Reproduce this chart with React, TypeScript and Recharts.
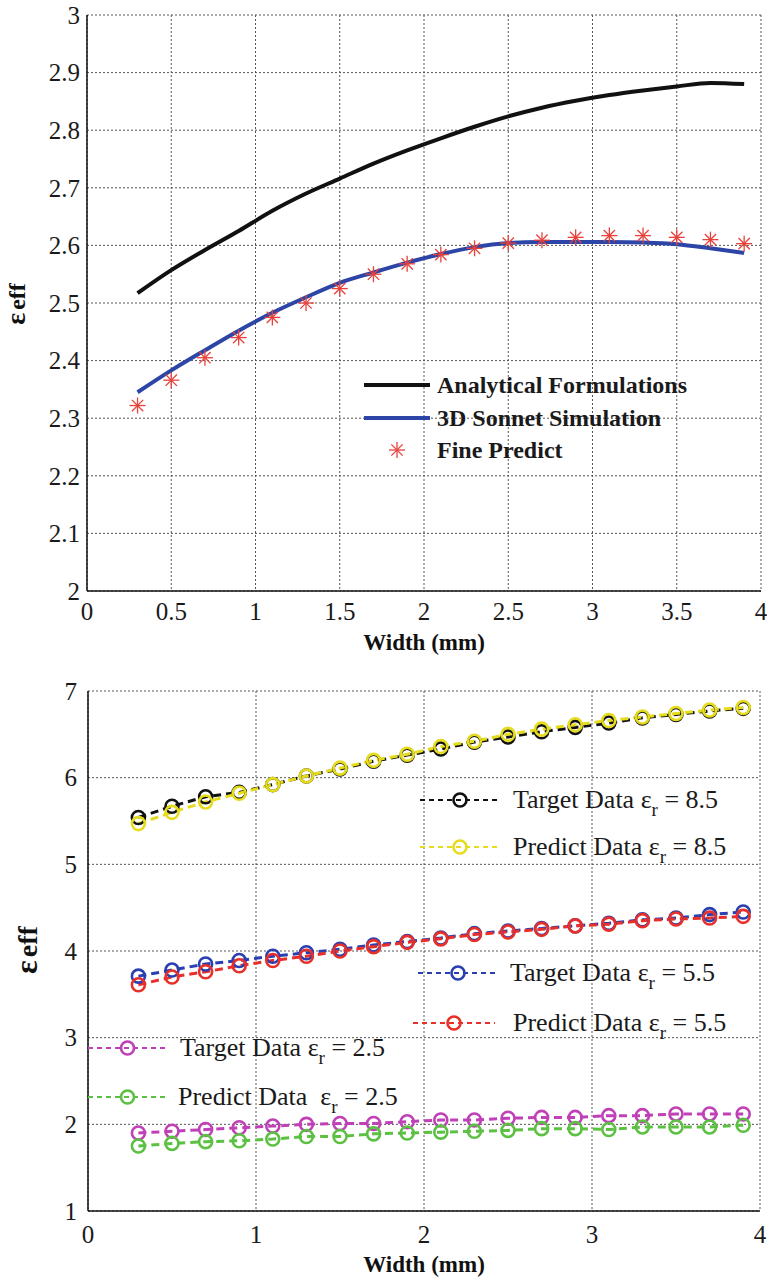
import { CartesianGrid, Line, LineChart, XAxis, YAxis } from 'recharts';

const FONT = '"Liberation Serif", "Times New Roman", serif';

// widths (mm) sampled in both plots
const widths = [0.3, 0.5, 0.7, 0.9, 1.1, 1.3, 1.5, 1.7, 1.9, 2.1, 2.3, 2.5, 2.7, 2.9, 3.1, 3.3, 3.5, 3.7, 3.9];

// top plot
const analytical = [2.517, 2.557, 2.592, 2.625, 2.66, 2.69, 2.716, 2.742, 2.765, 2.786, 2.806, 2.824, 2.839, 2.851, 2.861, 2.869, 2.876, 2.882, 2.88];
const sonnet = [2.345, 2.383, 2.418, 2.452, 2.483, 2.51, 2.535, 2.553, 2.57, 2.585, 2.597, 2.604, 2.606, 2.606, 2.606, 2.605, 2.602, 2.595, 2.587];
const finePredict = [2.322, 2.366, 2.405, 2.44, 2.475, 2.5, 2.525, 2.55, 2.568, 2.584, 2.595, 2.604, 2.609, 2.614, 2.617, 2.617, 2.614, 2.61, 2.603];
const topXTicks = [0, 0.5, 1, 1.5, 2, 2.5, 3, 3.5, 4];
const topYTicks = [2, 2.1, 2.2, 2.3, 2.4, 2.5, 2.6, 2.7, 2.8, 2.9, 3];

// bottom plot
const target85 = [5.54, 5.67, 5.78, 5.83, 5.92, 6.02, 6.1, 6.19, 6.26, 6.33, 6.41, 6.47, 6.53, 6.58, 6.63, 6.69, 6.73, 6.77, 6.8];
const predict85 = [5.47, 5.6, 5.72, 5.82, 5.92, 6.02, 6.11, 6.2, 6.27, 6.36, 6.42, 6.5, 6.56, 6.61, 6.66, 6.7, 6.74, 6.78, 6.81];
const target55 = [3.71, 3.78, 3.85, 3.89, 3.94, 3.98, 4.02, 4.07, 4.11, 4.15, 4.2, 4.23, 4.26, 4.29, 4.32, 4.36, 4.38, 4.42, 4.45];
const predict55 = [3.61, 3.7, 3.76, 3.83, 3.89, 3.94, 4.0, 4.05, 4.1, 4.14, 4.19, 4.22, 4.25, 4.29, 4.31, 4.35, 4.37, 4.38, 4.4];
const target25 = [1.9, 1.92, 1.94, 1.96, 1.98, 2.0, 2.01, 2.01, 2.03, 2.05, 2.05, 2.07, 2.08, 2.08, 2.1, 2.1, 2.12, 2.12, 2.12];
const predict25 = [1.75, 1.78, 1.8, 1.81, 1.83, 1.86, 1.86, 1.89, 1.9, 1.91, 1.92, 1.93, 1.95, 1.95, 1.94, 1.97, 1.97, 1.97, 1.99];
const bottomXTicks = [0, 1, 2, 3, 4];
const bottomYTicks = [1, 2, 3, 4, 5, 6, 7];

const topRows = widths.map((w, i) => ({ w, analytical: analytical[i], sonnet: sonnet[i], fine: finePredict[i] }));
const bottomRows = widths.map((w, i) => ({
  w,
  t85: target85[i],
  p85: predict85[i],
  t55: target55[i],
  p55: predict55[i],
  t25: target25[i],
  p25: predict25[i],
}));

const bottomSeries = [
  { key: 't85', color: '#111111', label: 'Target Data ε', val: ' = 8.5', cy: 800, x1: 420, x2: 500, tx: 513 },
  { key: 'p85', color: '#e6dc1e', label: 'Predict Data ε', val: ' = 8.5', cy: 847, x1: 420, x2: 500, tx: 513 },
  { key: 't55', color: '#2a3fb0', label: 'Target Data ε', val: ' = 5.5', cy: 973, x1: 418, x2: 498, tx: 510 },
  { key: 'p55', color: '#e8302a', label: 'Predict Data ε', val: ' = 5.5', cy: 1023, x1: 413, x2: 495, tx: 513 },
  { key: 't25', color: '#c040b8', label: 'Target Data ε', val: ' = 2.5', cy: 1048, x1: 88, x2: 167, tx: 180 },
  { key: 'p25', color: '#5cc043', label: 'Predict Data  ε', val: ' = 2.5', cy: 1097, x1: 88, x2: 167, tx: 178 },
];

const gridColor = '#555';

function XTick(props: any) {
  const { x, y, payload } = props;
  return (
    <text x={x} y={y} dy="0.71em" textAnchor="middle" fontFamily={FONT} fontSize={25} fill="#1a1a1a">
      {payload.value}
    </text>
  );
}

function YTick(props: any) {
  const { x, y, payload } = props;
  return (
    <text x={x} y={y} dy="0.35em" textAnchor="end" fontFamily={FONT} fontSize={25} fill="#1a1a1a">
      {payload.value}
    </text>
  );
}

function StarDot(props: any) {
  const { cx, cy, index } = props;
  if (cx == null || cy == null) return <g key={index} />;
  const r = 8;
  const d = r * 0.707;
  return (
    <g key={`s${index}`} stroke="#e8403a" strokeWidth={1.3}>
      <line x1={cx - r} y1={cy} x2={cx + r} y2={cy} />
      <line x1={cx} y1={cy - r} x2={cx} y2={cy + r} />
      <line x1={cx - d} y1={cy - d} x2={cx + d} y2={cy + d} />
      <line x1={cx - d} y1={cy + d} x2={cx + d} y2={cy - d} />
    </g>
  );
}

function circleDot(color: string) {
  return (props: any) => {
    const { cx, cy, index } = props;
    if (cx == null || cy == null) return <g key={index} />;
    return <circle key={`c${index}`} cx={cx} cy={cy} r={6.5} fill="none" stroke={color} strokeWidth={2.6} />;
  };
}

function YTitle({ x, y, size }: { x: number; y: number; size: number }) {
  return (
    <text transform={`translate(${x},${y}) rotate(-90)`} textAnchor="middle" fontFamily={FONT} fontWeight="bold" fill="#111">
      <tspan fontSize={size + 4}>ε</tspan>
      <tspan fontSize={size} dx={3}>eff</tspan>
    </text>
  );
}

function XTitle({ x, y }: { x: number; y: number }) {
  return (
    <text x={x} y={y} textAnchor="middle" fontFamily={FONT} fontWeight="bold" fontSize={23} fill="#111">
      Width (mm)
    </text>
  );
}

const axisLine = { stroke: '#111', strokeWidth: 1.5 };

export default function App() {
  return (
    <div style={{ position: 'absolute', left: 0, top: 0, width: 767, height: 1280, background: '#fff' }}>
      <div style={{ position: 'absolute', left: 0, top: 0 }}>
        <LineChart width={767} height={660} data={topRows} margin={{ top: 15, right: 6, left: 0, bottom: 0 }}>
          <CartesianGrid stroke={gridColor} strokeDasharray="2 2" />
          <XAxis dataKey="w" type="number" domain={[0, 4]} ticks={topXTicks} height={69} tickLine={false} tickMargin={5} tick={XTick} axisLine={axisLine} />
          <XAxis xAxisId="top" orientation="top" type="number" domain={[0, 4]} height={0} tick={false} tickLine={false} axisLine={axisLine} />
          <YAxis type="number" domain={[2, 3]} ticks={topYTicks} width={87} tickLine={false} tickMargin={1} tick={YTick} axisLine={axisLine} />
          <YAxis yAxisId="right" orientation="right" domain={[2, 3]} width={0} tick={false} tickLine={false} axisLine={axisLine} />
          <Line dataKey="analytical" type="monotone" stroke="#111" strokeWidth={4} dot={false} isAnimationActive={false} />
          <Line dataKey="sonnet" type="monotone" stroke="#2c45a6" strokeWidth={4} dot={false} isAnimationActive={false} />
          <Line dataKey="fine" stroke="none" dot={StarDot} activeDot={false} isAnimationActive={false} />
        </LineChart>
        <svg width={767} height={660} style={{ position: 'absolute', left: 0, top: 0, pointerEvents: 'none' }}>
          <YTitle x={25} y={304} size={24} />
          <XTitle x={424} y={650} />
          <line x1={364} y1={385} x2={430} y2={385} stroke="#111" strokeWidth={4} />
          <line x1={364} y1={418} x2={430} y2={418} stroke="#2c45a6" strokeWidth={4} />
          <StarDot cx={397} cy={450} index={99} />
          <g fontFamily={FONT} fontWeight="bold" fontSize={24} fill="#1a1a1a">
            <text x={437} y={393}>Analytical Formulations</text>
            <text x={437} y={426}>3D Sonnet Simulation</text>
            <text x={437} y={458}>Fine Predict</text>
          </g>
        </svg>
      </div>

      <div style={{ position: 'absolute', left: 0, top: 660 }}>
        <LineChart width={767} height={620} data={bottomRows} margin={{ top: 31, right: 7, left: 0, bottom: 0 }}>
          <CartesianGrid stroke={gridColor} strokeDasharray="2 2" />
          <XAxis dataKey="w" type="number" domain={[0, 4]} ticks={bottomXTicks} height={69} tickLine={false} tickMargin={8} tick={XTick} axisLine={axisLine} />
          <XAxis xAxisId="top" orientation="top" type="number" domain={[0, 4]} height={0} tick={false} tickLine={false} axisLine={axisLine} />
          <YAxis type="number" domain={[1, 7]} ticks={bottomYTicks} width={88} tickLine={false} tickMargin={5} tick={YTick} axisLine={axisLine} />
          <YAxis yAxisId="right" orientation="right" domain={[1, 7]} width={0} tick={false} tickLine={false} axisLine={axisLine} />
          {bottomSeries.map((s) => (
            <Line
              key={s.key}
              dataKey={s.key}
              stroke={s.color}
              strokeWidth={3}
              strokeDasharray="8 5"
              dot={circleDot(s.color)}
              activeDot={false}
              isAnimationActive={false}
            />
          ))}
        </LineChart>
        <svg width={767} height={620} style={{ position: 'absolute', left: 0, top: 0, pointerEvents: 'none' }}>
          <YTitle x={37} y={290} size={28} />
          <XTitle x={424} y={612} />
          {bottomSeries.map((s) => {
            const y = s.cy - 660;
            return (
              <g key={s.key}>
                <line x1={s.x1} y1={y} x2={s.x2} y2={y} stroke={s.color} strokeWidth={2.2} strokeDasharray="5 4" />
                <circle cx={(s.x1 + s.x2) / 2} cy={y} r={6.5} fill="none" stroke={s.color} strokeWidth={2.6} />
                <text x={s.tx} y={y + 8} fontFamily={FONT} fontSize={26} fill="#1a1a1a" style={{ whiteSpace: 'pre' }}>
                  {s.label}
                  <tspan fontSize={19} dy={8}>r</tspan>
                  <tspan dy={-8}>{s.val}</tspan>
                </text>
              </g>
            );
          })}
        </svg>
      </div>
    </div>
  );
}
